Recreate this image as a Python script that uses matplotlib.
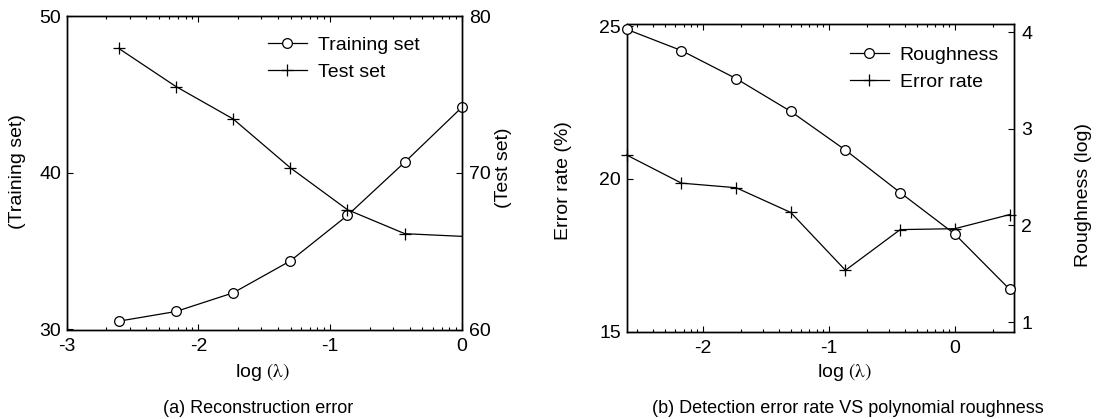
import numpy as np
import matplotlib
matplotlib.use("Agg")
import matplotlib.pyplot as plt
from matplotlib.ticker import FixedLocator

plt.rcParams['font.family'] = ['Liberation Sans', 'DejaVu Sans']
plt.rcParams['mathtext.fontset'] = 'stix'
plt.rcParams['axes.unicode_minus'] = False
FS = 14

# ---- data ----
log_lambda_a = [-2.606, -2.171, -1.737, -1.303, -0.869, -0.434, 0.0]
training_set = [30.53, 31.15, 32.34, 34.38, 37.29, 40.69, 44.20]
test_set = [77.96, 75.52, 73.45, 70.33, 67.65, 66.12, 65.95]

log_lambda_b = [-2.606, -2.171, -1.737, -1.303, -0.869, -0.434, 0.0, 0.434]
error_rate = [20.78, 19.86, 19.71, 18.90, 17.01, 18.34, 18.37, 18.83]
roughness = [4.03, 3.81, 3.52, 3.18, 2.78, 2.34, 1.91, 1.34]

xticks_a = [-3, -2, -1, 0]
xticks_b = [-2, -1, 0]

W, H = 1096, 419
fig = plt.figure(figsize=(W / 100, H / 100), dpi=100)


def box(l, t, r, b):
    return [l / W, 1 - b / H, (r - l) / W, (b - t) / H]


def ftext(x, y, s, size=FS, **kw):
    fig.text(x / W, 1 - y / H, s, fontsize=size, ha='center', va='center', **kw)


def log_minor(lo, hi):
    out = []
    for d in range(int(np.floor(lo)) - 1, int(np.ceil(hi)) + 1):
        for k in range(2, 10):
            v = d + np.log10(k)
            if lo < v < hi:
                out.append(v)
    return out


def style(ax1, ax2, xlim, xticks):
    ax1.set_xlim(*xlim)
    ax1.set_xticks(xticks)
    ax1.xaxis.set_minor_locator(FixedLocator(log_minor(*xlim)))
    ax1.tick_params(axis='x', which='both', direction='in', top=True, bottom=True,
                    labelsize=FS, pad=6)
    ax1.tick_params(axis='x', which='major', length=4, width=0.8)
    ax1.tick_params(axis='x', which='minor', length=2.5, width=0.8)
    ax1.tick_params(axis='y', which='both', direction='in', left=True, right=False,
                    labelsize=FS, length=4, width=0.8, pad=4)
    ax2.tick_params(axis='y', which='both', direction='in', right=True, left=False,
                    labelsize=FS, length=4, width=0.8, pad=5)
    for a in (ax1, ax2):
        for s in a.spines.values():
            s.set_linewidth(1.0)
            s.set_color('black')


lw = 0.9
XLAB = r'log $\mathrm{(\lambda)}$'

# ---- panel (a) ----
ax1 = fig.add_axes(box(66.7, 16.4, 462, 329.5))
ax2 = ax1.twinx()
h1, = ax1.plot(log_lambda_a, training_set, color='black', lw=lw, marker='o',
               mfc='white', mec='black', ms=7, mew=0.9, clip_on=False, zorder=3)
h2, = ax2.plot(log_lambda_a, test_set, color='black', lw=lw, marker='+',
               ms=9, mew=0.9, markevery=list(range(len(test_set) - 1)), clip_on=False)
ax1.set_ylim(30, 50)
ax1.set_yticks([30, 40, 50])
ax2.set_ylim(60, 80)
ax2.set_yticks([60, 70, 80])
style(ax1, ax2, (-3, 0), xticks_a)
ftext(263, 372, XLAB)
ftext(18, 172, '(Training set)', rotation=90)
ftext(503, 168, '(Test set)', rotation=90)
fig.legend([h1, h2], ['Training set', 'Test set'], loc='upper left',
           bbox_to_anchor=(268 / W, 1 - 36 / H), frameon=False, fontsize=FS,
           borderpad=0, borderaxespad=0, handlelength=2.0, handletextpad=0.55,
           labelspacing=0.5)
ftext(258, 408, '(a) Reconstruction error', size=13)

# ---- panel (b) ----
bx1 = fig.add_axes(box(626.7, 24.5, 1014.3, 331.7))
bx2 = bx1.twinx()
g1, = bx2.plot(log_lambda_b, roughness, color='black', lw=lw, marker='o',
               mfc='white', mec='black', ms=7, mew=0.9, clip_on=False, zorder=3)
g2, = bx1.plot(log_lambda_b, error_rate, color='black', lw=lw, marker='+',
               ms=9, mew=0.9, clip_on=False)
bx1.set_ylim(15, 25.05)
bx1.set_yticks([15, 20, 25])
bx2.set_ylim(0.9, 4.08)
bx2.set_yticks([1, 2, 3, 4])
style(bx1, bx2, (-2.606, 0.472), xticks_b)
ftext(845, 372, XLAB)
ftext(563, 181, 'Error rate (%)', rotation=90)
ftext(1084, 195, 'Roughness (log)', rotation=90)
fig.legend([g1, g2], ['Roughness', 'Error rate'], loc='upper left',
           bbox_to_anchor=(850 / W, 1 - 46 / H), frameon=False, fontsize=FS,
           borderpad=0, borderaxespad=0, handlelength=2.0, handletextpad=0.55,
           labelspacing=0.5)
ftext(848, 408, '(b) Detection error rate VS polynomial roughness', size=13)

fig.savefig('out.png', dpi=100)
